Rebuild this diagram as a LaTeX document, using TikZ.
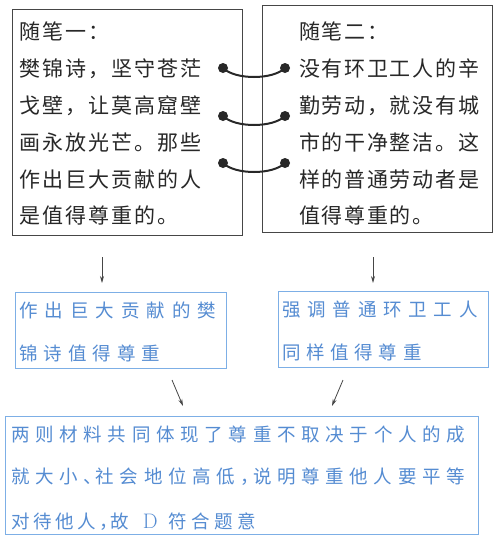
\documentclass[tikz,border=0pt]{standalone}
\usepackage{fontspec}
\usetikzlibrary{arrows.meta}
\newfontfamily\cjk{Noto Sans CJK SC}
\definecolor{boxgray}{RGB}{70,70,70}
\definecolor{txtgray}{RGB}{40,40,40}
\definecolor{bluetxt}{RGB}{85,140,210}
\definecolor{blueline}{RGB}{125,175,230}
\makeatletter
\newcommand\spc[2]{\def\spc@w{#1}\spc@a#2\relax}
\def\spc@a#1{\ifx\relax#1\else\makebox[\spc@w][l]{#1}\expandafter\spc@a\fi}
\makeatother
\newcommand\cstrut{\rule[-0.12em]{0pt}{1em}}
\tikzset{
  graybox/.style={draw=boxgray, line width=0.9pt},
  bluebox/.style={draw=blueline, line width=0.9pt},
  grayline/.style={anchor=west, inner sep=0pt, text=txtgray,
    font=\cjk\fontsize{21}{21}\selectfont, execute at begin node=\cstrut},
  blueline/.style={anchor=west, inner sep=0pt, text=bluetxt,
    font=\cjk\fontsize{18.5}{18.5}\selectfont, execute at begin node=\cstrut},
  ring/.style={circle, fill=txtgray, inner sep=0pt, minimum size=10pt},
  hook/.style={draw=txtgray, line width=2pt},
  flow/.style={draw=boxgray, line width=0.8pt, -{Stealth[length=7pt,width=4pt]}}
}
\begin{document}
\begin{tikzpicture}[x=1pt,y=-1pt]
\useasboundingbox[fill=white] (0,0) rectangle (497,536);
% boxes
\node[graybox, minimum width=230pt, minimum height=226pt, inner sep=0pt] (b1) at (127,122) {};
\node[graybox, minimum width=230pt, minimum height=227pt, inner sep=0pt] (b2) at (377,118.5) {};
\node[bluebox, minimum width=211pt, minimum height=76pt, inner sep=0pt] (b3) at (120.5,330) {};
\node[bluebox, minimum width=210pt, minimum height=76pt, inner sep=0pt] (b4) at (383,329) {};
\node[bluebox, minimum width=473pt, minimum height=118pt, inner sep=0pt] (b5) at (241.5,475) {};
% box 1 text
\node[grayline] (t11) at (19,32) {\spc{23pt}{随笔一：}};
\node[grayline] (t12) at (19,68.8) {\spc{23pt}{樊锦诗，坚守苍茫}};
\node[grayline] (t13) at (19,105.6) {\spc{23pt}{戈壁，让莫高窟壁}};
\node[grayline] (t14) at (19,142.4) {\spc{23pt}{画永放光芒。那些}};
\node[grayline] (t15) at (19,179.2) {\spc{23pt}{作出巨大贡献的人}};
\node[grayline] (t16) at (19,216) {\spc{23pt}{是值得尊重的。}};
% box 2 text
\node[grayline] (t21) at (299,32) {\spc{22.7pt}{随笔二：}};
\node[grayline] (t22) at (299,68.8) {\spc{22.7pt}{没有环卫工人的辛}};
\node[grayline] (t23) at (299,105.6) {\spc{22.7pt}{勤劳动，就没有城}};
\node[grayline] (t24) at (299,142.4) {\spc{22.7pt}{市的干净整洁。这}};
\node[grayline] (t25) at (299,179.2) {\spc{22.7pt}{样的普通劳动者是}};
\node[grayline] (t26) at (299,216) {\spc{22.7pt}{值得尊重的。}};
% rings
\foreach \i/\y in {1/68,2/116,3/163}{
  \node[ring] (l\i) at (223,\y) {};
  \node[ring] (r\i) at (285,\y) {};
  \draw[hook] (l\i.center) .. controls +(12,12) and +(-12,12) .. (r\i.center);
}
% box 3/4 text
\node[blueline] (t31) at (19,310) {\spc{25.5pt}{作出巨大贡献的樊}};
\node[blueline] (t32) at (19,353) {\spc{24.5pt}{锦诗值得尊重}};
\node[blueline] (t41) at (282,309) {\spc{25.3pt}{强调普通环卫工人}};
\node[blueline] (t42) at (282,352) {\spc{24.2pt}{同样值得尊重}};
% box 5 text
\node[blueline] (t51) at (11,434) {\spc{24.2pt}{两则材料共同体现了尊重不取决于个人的成}};
\node[blueline] (t52) at (11,476) {\spc{24.2pt}{就大小}\spc{12pt}{、}\spc{24.2pt}{社会地位高低}\spc{12pt}{，}\spc{24.2pt}{说明尊重他人要平等}};
\node[blueline] (t53) at (11,521) {\spc{22pt}{对待他人}\spc{11pt}{，}\spc{22pt}{故}\makebox[36pt]{\normalfont\fontsize{21}{21}\selectfont D}\spc{23pt}{符合题意}};
% arrows
\coordinate (a1s) at (102,257); \coordinate (a1e) at (102,283);
\coordinate (a2s) at (373,257); \coordinate (a2e) at (373,283);
\coordinate (a3s) at (172,380); \coordinate (a3e) at (183,406);
\coordinate (a4s) at (343,380); \coordinate (a4e) at (332,406);
\draw[flow] (a1s) -- (a1e);
\draw[flow] (a2s) -- (a2e);
\draw[flow] (a3s) -- (a3e);
\draw[flow] (a4s) -- (a4e);
\end{tikzpicture}
\end{document}
